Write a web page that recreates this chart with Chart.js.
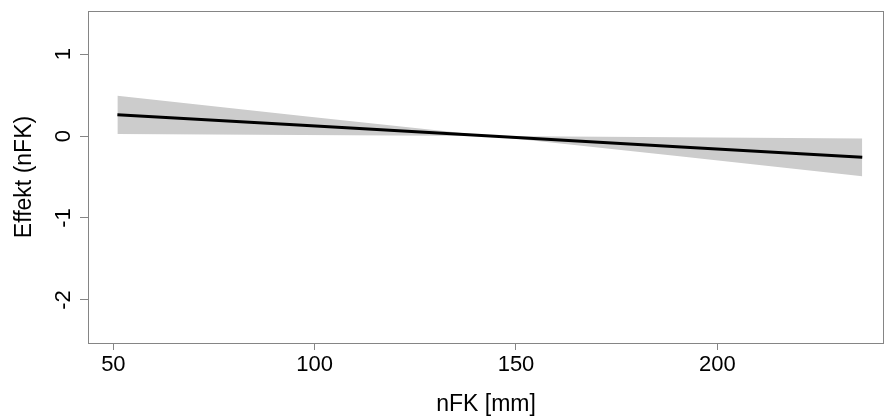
<!DOCTYPE html>
<html>
<head>
<meta charset="utf-8">
<script src="https://cdn.jsdelivr.net/npm/chart.js@4/dist/chart.umd.min.js"></script>
<style>
  html, body { margin: 0; padding: 0; background: #fff; }
  canvas { display: block; }
</style>
</head>
<body>
<canvas id="plot" width="885" height="418"></canvas>
<script>
'use strict';

// values
const nfk    = [51, 97, 143.6, 190, 236];
const effekt = [0.26, 0.13, 0, -0.13, -0.26];
const upper  = [0.49, 0.245, 0, -0.015, -0.03];
const lower  = [0.025, 0.012, 0, -0.245, -0.49];

const xTicks = [50, 100, 150, 200];
const yTicks = [-2, -1, 0, 1];

const xLabel = 'nFK [mm]';
const yLabel = 'Effekt (nFK)';

const FONT = '"Liberation Sans", Arial, sans-serif';
const AXIS_GREY = '#858585';
const BAND = '#cccccc';

const pts = ys => nfk.map((x, i) => ({ x, y: ys[i] }));

// box, rotated y tick labels, axis titles (R base-graphics look)
const rFrame = {
  id: 'rFrame',
  afterDraw(chart) {
    const { ctx, chartArea: a, scales } = chart;
    ctx.save();
    ctx.strokeStyle = AXIS_GREY;
    ctx.lineWidth = 1;
    ctx.strokeRect(a.left + 0.5, a.top + 0.5, a.right - a.left - 1, a.bottom - a.top);

    ctx.fillStyle = '#000';
    ctx.font = '22px ' + FONT;
    ctx.textAlign = 'center';
    ctx.textBaseline = 'middle';
    scales.y.ticks.forEach(t => {
      const py = scales.y.getPixelForValue(t.value);
      ctx.save();
      ctx.translate(64, py);
      ctx.rotate(-Math.PI / 2);
      ctx.fillText(String(t.value), 0, 0);
      ctx.restore();
    });

    ctx.font = '23px ' + FONT;
    ctx.fillText(xLabel, (a.left + a.right) / 2, 405);
    ctx.save();
    ctx.translate(25, (a.top + a.bottom) / 2);
    ctx.rotate(-Math.PI / 2);
    ctx.fillText(yLabel, 0, 0);
    ctx.restore();
    ctx.restore();
  }
};

new Chart(document.getElementById('plot'), {
  type: 'line',
  data: {
    datasets: [
      { data: pts(lower), borderWidth: 0, pointRadius: 0, fill: false },
      { data: pts(upper), borderWidth: 0, pointRadius: 0, fill: '-1', backgroundColor: BAND },
      { data: pts(effekt), borderColor: '#000', borderWidth: 3, pointRadius: 0, fill: false }
    ]
  },
  options: {
    responsive: false,
    animation: false,
    layout: { padding: { top: 11, right: 1, left: 0, bottom: 0 } },
    plugins: {
      legend: { display: false },
      tooltip: { enabled: false },
      filler: { drawTime: 'beforeDatasetsDraw' }
    },
    scales: {
      x: {
        type: 'linear',
        min: 43.7, max: 241.4,
        afterBuildTicks: s => { s.ticks = xTicks.map(v => ({ value: v })); },
        afterFit: s => { s.height = 75; },
        border: { display: false },
        grid: { drawOnChartArea: false, drawTicks: true, tickLength: 7, color: AXIS_GREY },
        ticks: { color: '#000', font: { family: FONT, size: 22 }, padding: 2, maxRotation: 0 }
      },
      y: {
        type: 'linear',
        min: -2.525, max: 1.525,
        afterBuildTicks: s => { s.ticks = yTicks.map(v => ({ value: v })); },
        afterFit: s => { s.width = 88; },
        border: { display: false },
        grid: { drawOnChartArea: false, drawTicks: true, tickLength: 8, color: AXIS_GREY },
        ticks: { display: false }
      }
    }
  },
  plugins: [rFrame]
});
</script>
</body>
</html>
